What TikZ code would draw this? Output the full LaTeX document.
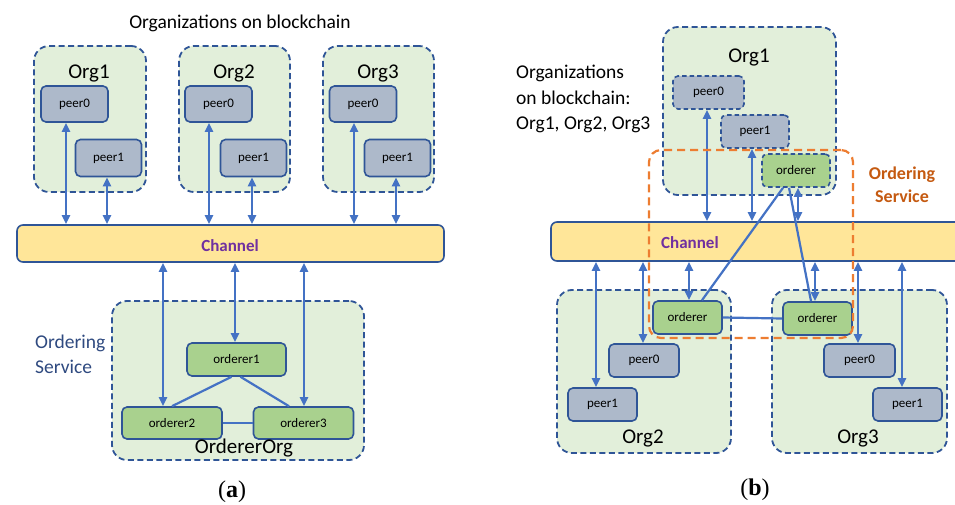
\documentclass[tikz,border=0pt]{standalone}
\usepackage{fontspec}
\setmainfont{Carlito}
\newfontfamily\capfont{Liberation Serif}
\usetikzlibrary{arrows.meta}

\definecolor{orgfill}{HTML}{E2EFDA}
\definecolor{edge}{HTML}{2F5597}
\definecolor{peerfill}{HTML}{ADB9CA}
\definecolor{ordfill}{HTML}{A9D18E}
\definecolor{chfill}{HTML}{FFE699}
\definecolor{link}{HTML}{4472C4}
\definecolor{chtext}{HTML}{7030A0}
\definecolor{svc}{HTML}{ED7D31}
\definecolor{svctext}{HTML}{C55A11}
\definecolor{svcblue}{HTML}{2F4A80}

\tikzset{
  orgbox/.style={draw=edge, fill=orgfill, line width=1.8pt,
    dash pattern=on 6pt off 3.5pt, rounded corners=15pt, inner sep=0pt},
  peer/.style={draw=edge, fill=peerfill, line width=1.6pt,
    rounded corners=5pt, inner sep=0pt, font=\fontsize{13}{15}\selectfont},
  ordbox/.style={peer, fill=ordfill},
  dashbox/.style={dash pattern=on 4.5pt off 3pt},
  chan/.style={draw=edge, fill=chfill, line width=1.6pt, rounded corners=6pt, inner sep=0pt},
  chlabel/.style={text=chtext, font=\fontsize{17}{19}\selectfont\bfseries, inner sep=0pt},
  biarrow/.style={draw=link, line width=2.2pt,
    {Triangle[length=9pt,width=8pt]}-{Triangle[length=9pt,width=8pt]}},
  linkline/.style={draw=link, line width=2.2pt},
  orglabel/.style={font=\fontsize{21}{24}\selectfont, inner sep=0pt},
  note/.style={font=\fontsize{19.5}{25.5}\selectfont, inner sep=0pt, align=left},
  caption/.style={font=\capfont\fontsize{24}{26}\selectfont, inner sep=0pt},
}

\begin{document}
\begin{tikzpicture}[x=1pt,y=-1pt]
\fill[white] (0,0) rectangle (955,505);
\clip (0,0) rectangle (955,505);

% ---------------- (a) one orderer organisation ----------------
\node[note] (titleA) at (240,23) {Organizations on blockchain};

\node[orgbox, minimum width=112, minimum height=146] (a1) at (90,119) {};
\node[orgbox, minimum width=111, minimum height=146] (a2) at (234.5,119) {};
\node[orgbox, minimum width=111, minimum height=146] (a3) at (378.5,119) {};
\node[orglabel] (a1l) at (89,73) {Org1};
\node[orglabel] (a2l) at (234,73) {Org2};
\node[orglabel] (a3l) at (378,73) {Org3};

\node[peer, minimum width=67, minimum height=36] (a1p0) at (74.5,104) {peer0};
\node[peer, minimum width=66, minimum height=37] (a1p1) at (108.5,158) {peer1};
\node[peer, minimum width=67, minimum height=36] (a2p0) at (218.5,104) {peer0};
\node[peer, minimum width=66, minimum height=37] (a2p1) at (253.5,158) {peer1};
\node[peer, minimum width=67, minimum height=36] (a3p0) at (363,104) {peer0};
\node[peer, minimum width=66, minimum height=37] (a3p1) at (397.5,158) {peer1};

\node[chan, minimum width=427, minimum height=37] (chA) at (230.5,243.5) {};
\node[chlabel] (chAl) at (230,246) {Channel};

\node[orgbox, minimum width=252, minimum height=159] (oorg) at (238,380.5) {};
\node[ordbox, minimum width=99, minimum height=33] (o1) at (236.5,359.5) {orderer1};
\node[ordbox, minimum width=100, minimum height=32] (o2) at (172,423) {orderer2};
\node[ordbox, minimum width=100, minimum height=32] (o3) at (303.5,423) {orderer3};
\node[orglabel] (oorgl) at (244,448) {OrdererOrg};
\node[note, text=svcblue, anchor=west] (svcA) at (35,354.5) {Ordering\\Service};

% peers to channel
\foreach \p/\dx in {a1p0/-8.5, a1p1/-1.5, a2p0/-9.5, a2p1/-1.5, a3p0/-9, a3p1/-1.5}
  \draw[biarrow] ([xshift=\dx pt]\p.south) -- ([xshift=\dx pt]\p.south |- chA.north);
% orderers to channel
\draw[biarrow] ([xshift=-9pt]o2.north |- chA.south) -- ([xshift=-9pt]o2.north);
\draw[biarrow] ([xshift=-1.5pt]o1.north |- chA.south) -- ([xshift=-1.5pt]o1.north);
\draw[biarrow] ([xshift=0.5pt]o3.north |- chA.south) -- ([xshift=0.5pt]o3.north);
% orderer mesh
\draw[linkline] ([xshift=-5pt]o1.south) -- (o2.north);
\draw[linkline] ([xshift=4pt]o1.south) -- ([xshift=-14.5pt]o3.north);
\draw[linkline] (o2.east) -- (o3.west);

\node[caption] (capA) at (232,492) {(\textbf{a})};

% ---------------- (b) orderers spread over organisations ----------------
\node[note, anchor=west] (titleB) at (516,99) {Organizations\\on blockchain:\\Org1, Org2, Org3};

\node[orgbox, minimum width=173, minimum height=168] (b1) at (749.5,111) {};
\node[orglabel] (b1l) at (749,57) {Org1};
\node[peer, dashbox, minimum width=71, minimum height=33] (b1p0) at (708.5,92.5) {peer0};
\node[peer, dashbox, minimum width=68, minimum height=33] (b1p1) at (755,131.5) {peer1};
\node[ordbox, dashbox, minimum width=68, minimum height=33] (b1o) at (796,170.5) {orderer};

\node[chan, minimum width=419, minimum height=39] (chB) at (760.5,241.5) {};
\node[chlabel, anchor=west] (chBl) at (661,243) {Channel};

\node[orgbox, minimum width=174, minimum height=163] (b2) at (644,371.5) {};
\node[orgbox, minimum width=175, minimum height=163] (b3) at (859.5,371.5) {};
\node[orglabel] (b2l) at (643,438) {Org2};
\node[orglabel] (b3l) at (858,438) {Org3};
\node[ordbox, minimum width=69, minimum height=33] (b2o) at (687.5,317.5) {orderer};
\node[ordbox, minimum width=69, minimum height=33] (b3o) at (817.5,318.5) {orderer};
\node[peer, minimum width=70, minimum height=33] (b2p0) at (644,360.5) {peer0};
\node[peer, minimum width=69, minimum height=33] (b2p1) at (602.5,404.5) {peer1};
\node[peer, minimum width=71, minimum height=33] (b3p0) at (859.5,360.5) {peer0};
\node[peer, minimum width=69, minimum height=33] (b3p1) at (907.5,404.5) {peer1};

% Org1 members to channel
\foreach \p/\dx in {b1p0/-1.5, b1p1/-3, b1o/2}
  \draw[biarrow] ([xshift=\dx pt]\p.south) -- ([xshift=\dx pt]\p.south |- chB.north);
% channel to Org2 / Org3 members
\foreach \p/\dx in {b2p1/-6.5, b2p0/-1, b2o/1.5, b3o/-2.5, b3p0/-1.5, b3p1/-5.5}
  \draw[biarrow] ([xshift=\dx pt]\p.north |- chB.south) -- ([xshift=\dx pt]\p.north);
% orderer links
\draw[linkline] ([xshift=-13pt]b1o.south) -- ([xshift=14.5pt]b2o.north);
\draw[linkline] ([xshift=-7pt]b1o.south) -- ([xshift=-6.5pt]b3o.north);
\draw[linkline] (b2o.east) -- (b3o.west);

% ordering service boundary
\node[draw=svc, line width=2.2pt, dash pattern=on 8pt off 5pt, rounded corners=12pt,
      minimum width=204, minimum height=188, inner sep=0pt] (svcbox) at (751,244) {};
\node[note, text=svctext, align=center, font=\fontsize{18}{23}\selectfont\bfseries] (svcB) at (902,184.5) {Ordering\\Service};

\node[caption] (capB) at (755,490) {(\textbf{b})};
\end{tikzpicture}
\end{document}
